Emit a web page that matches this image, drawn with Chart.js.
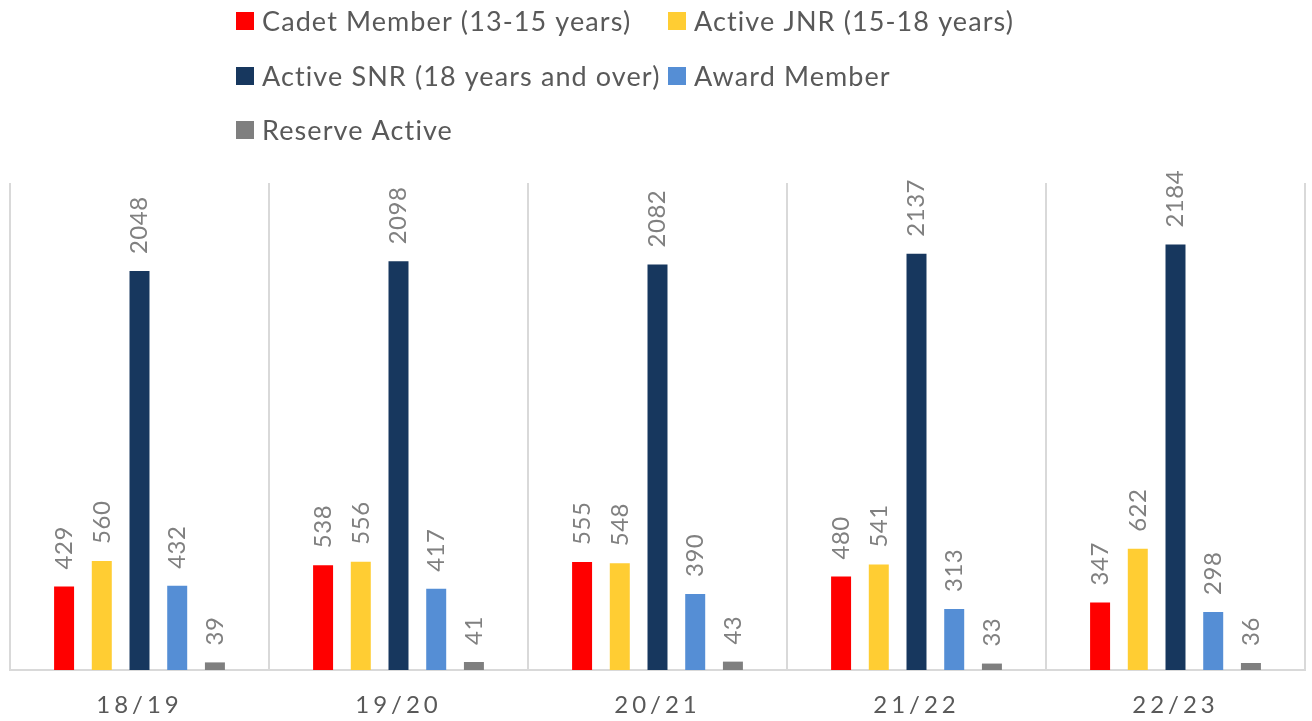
<!DOCTYPE html>
<html>
<head>
<meta charset="utf-8">
<script src="https://cdn.jsdelivr.net/npm/chart.js@4/dist/chart.umd.min.js"></script>
<style>
html,body{margin:0;padding:0;background:#fff;}
#wrap{width:1312px;height:721px;position:relative;}
</style>
</head>
<body>
<div id="wrap"><canvas id="c" width="1312" height="721"></canvas></div>
<script>
const categories = ["18/19", "19/20", "20/21", "21/22", "22/23"];
const seriesNames = ["Cadet Member (13-15 years)", "Active JNR (15-18 years)", "Active SNR (18 years and over)", "Award Member", "Reserve Active"];
const cadetMember = [429, 538, 555, 480, 347];
const activeJnr = [560, 556, 548, 541, 622];
const activeSnr = [2048, 2098, 2082, 2137, 2184];
const awardMember = [432, 417, 390, 313, 298];
const reserveActive = [39, 41, 43, 33, 36];
const seriesColors = ["#FF0000", "#FFCD33", "#17375E", "#558ED5", "#7F7F7F"];
const yMax = 2500;

const seriesValues = [cadetMember, activeJnr, activeSnr, awardMember, reserveActive];

const FONT = "Lato, 'Open Sans', sans-serif";

const gridLegend = {
  id: 'gridLegend',
  afterDraw(chart) {
    const ctx = chart.ctx;
    ctx.save();
    ctx.font = "27px " + FONT;
    try { ctx.letterSpacing = '1.1px'; } catch (e) {}
    ctx.textBaseline = 'middle';
    ctx.textAlign = 'left';
    const ds = chart.data.datasets;
    const cols = [236, 668], box = 18, gap = 8;
    const rowsY = [21, 76, 130];
    ds.forEach((d, i) => {
      const x = cols[i % 2];
      const y = rowsY[Math.floor(i / 2)];
      ctx.fillStyle = d.backgroundColor;
      ctx.fillRect(x, y - box / 2, box, box);
      ctx.fillStyle = '#595959';
      ctx.fillText(d.label, x + box + gap, y + 1);
    });
    ctx.restore();
  }
};

const barLabels = {
  id: 'barLabels',
  afterDatasetsDraw(chart) {
    const ctx = chart.ctx;
    ctx.save();
    ctx.font = "24px " + FONT;
    ctx.fillStyle = '#808080';
    ctx.textAlign = 'left';
    ctx.textBaseline = 'middle';
    try { ctx.letterSpacing = '0.5px'; } catch (e) {}
    chart.data.datasets.forEach((d, di) => {
      const meta = chart.getDatasetMeta(di);
      meta.data.forEach((bar, i) => {
        ctx.save();
        ctx.translate(bar.x, bar.y - 17);
        ctx.rotate(-Math.PI / 2);
        ctx.fillText(String(d.data[i]), 0, 0);
        ctx.restore();
      });
    });
    ctx.restore();
  }
};

const spacing = {
  id: 'spacing',
  beforeDraw(chart) { try { chart.ctx.letterSpacing = '4px'; } catch (e) {} },
  afterDraw(chart) { try { chart.ctx.letterSpacing = '0px'; } catch (e) {} }
};

new Chart(document.getElementById('c'), {
  type: 'bar',
  data: {
    labels: categories,
    datasets: seriesNames.map((n, i) => ({
      label: n,
      data: seriesValues[i],
      backgroundColor: seriesColors[i],
      borderWidth: 0,
      categoryPercentage: 0.728,
      barPercentage: 0.53
    }))
  },
  options: {
    responsive: false,
    animation: false,
    devicePixelRatio: 1,
    layout: { padding: { top: 183, left: 10, right: 7, bottom: 0 } },
    plugins: { legend: { display: false }, tooltip: { enabled: false } },
    scales: {
      x: {
        grid: { display: true, color: '#D9D9D9', lineWidth: 2, drawTicks: false, offset: true },
        border: { display: true, color: '#D9D9D9', width: 2 },
        ticks: { color: '#595959', font: { family: FONT, size: 24 }, padding: 21, maxRotation: 0 },
        afterFit(scale) { scale.height = 51; }
      },
      y: {
        display: false,
        min: 0,
        max: yMax
      }
    }
  },
  plugins: [spacing, barLabels, gridLegend]
});
</script>
</body>
</html>
